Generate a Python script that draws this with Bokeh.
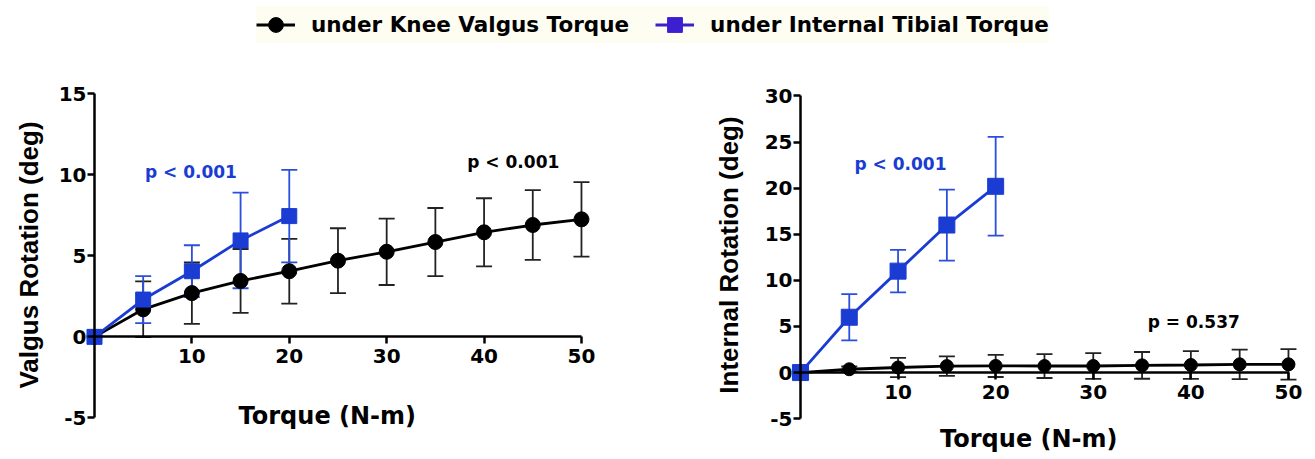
import math
from bokeh.plotting import figure
from bokeh.models import (ColumnDataSource, Whisker, TeeHead, Label, Legend,
                          LegendItem, FixedTicker, Range1d, LinearAxis)
from bokeh.layouts import column, row
from bokeh.embed import file_html
from bokeh.resources import INLINE

# ---------------- data ----------------
torque_kv = [0, 5, 10, 15, 20, 25, 30, 35, 40, 45, 50]
torque_it = [0, 5, 10, 15, 20]

# Left panel: valgus rotation (deg)
valgus_kv_mean = [0, 1.7, 2.7, 3.45, 4.05, 4.7, 5.25, 5.85, 6.45, 6.9, 7.25]
valgus_kv_sd = [0, 1.72, 1.9, 1.97, 2.0, 2.0, 2.05, 2.1, 2.1, 2.15, 2.3]
valgus_it_mean = [0, 2.3, 4.05, 5.95, 7.45]
valgus_it_sd = [0, 1.45, 1.6, 2.95, 2.85]

# Right panel: internal rotation (deg)
internal_kv_mean = [0, 0.36, 0.55, 0.7, 0.72, 0.71, 0.71, 0.78, 0.82, 0.89, 0.89]
internal_kv_sd = [0, 0.3, 1.05, 1.05, 1.2, 1.3, 1.4, 1.45, 1.5, 1.6, 1.65]
internal_it_mean = [0, 6.0, 11.0, 16.0, 20.2]
internal_it_sd = [0, 2.5, 2.3, 3.85, 5.35]

x_ticks = [10, 20, 30, 40, 50]
left_y_ticks = [-5, 0, 5, 10, 15]
right_y_ticks = [-5, 0, 5, 10, 15, 20, 25, 30]

series_labels = ["under Knee Valgus Torque", "under Internal Tibial Torque"]
left_title = "Valgus Rotation (deg)"
right_title = "Internal Rotation (deg)"
x_title = "Torque  (N-m)"
left_p_texts = ["p < 0.001", "p < 0.001"]
right_p_texts = ["p < 0.001", "p = 0.537"]

# ---------------- style ----------------
BLACK = "#000000"
BAR_BLACK = "#222222"
BLUE = "#1a3cd3"
BAR_BLUE = "#2a4fdc"
LEG_BLUE = "#3c1fd0"
FONT = "DejaVu Sans"
TFONT = "Liberation Sans"


def make_panel(width, bl, br, bt, bb, x_start, x_end, y_start, y_end, yticks, ybound,
               y_title, y_title_standoff, x_title_standoff):
    p = figure(width=width, height=416,
               x_range=Range1d(x_start, x_end), y_range=Range1d(y_start, y_end),
               x_axis_type=None, y_axis_type=None,
               output_backend="svg", toolbar_location=None,
               min_border_left=bl, min_border_right=br,
               min_border_top=bt, min_border_bottom=bb)
    p.grid.visible = False
    p.outline_line_color = None
    p.background_fill_color = "white"
    p.border_fill_color = "white"

    # axes crossing at the origin (GraphPad style)
    ax_kw = dict(fixed_location=0, axis_line_width=2.5, axis_line_color="black",
                 major_tick_line_width=2.5, major_tick_line_color="black",
                 major_tick_in=0, major_tick_out=7,
                 minor_tick_in=0, minor_tick_out=0,
                 major_label_text_font=FONT, major_label_text_font_style="bold",
                 major_label_text_font_size="20px", major_label_text_color="black")
    fx = LinearAxis(ticker=FixedTicker(ticks=x_ticks), bounds=(0, 50),
                    major_label_standoff=5, **ax_kw)
    fy = LinearAxis(ticker=FixedTicker(ticks=yticks), bounds=ybound,
                    major_label_standoff=1,
                    major_label_overrides={t: str(t) for t in yticks if t < 0},
                    **ax_kw)
    p.add_layout(fx, "below")
    p.add_layout(fy, "left")

    # axis titles (title-only axes at the frame edges)
    t_kw = dict(ticker=FixedTicker(ticks=[]), axis_line_color=None,
                major_tick_in=0, major_tick_out=0, minor_tick_in=0, minor_tick_out=0,
                axis_label_text_font_style="bold", axis_label_text_color="black")
    tx = LinearAxis(axis_label=x_title, axis_label_standoff=x_title_standoff,
                    axis_label_text_font=FONT, axis_label_text_font_size="24px", **t_kw)
    ty = LinearAxis(axis_label=y_title, axis_label_standoff=y_title_standoff,
                    axis_label_text_font=TFONT, axis_label_text_font_size="26px", **t_kw)
    p.add_layout(tx, "below")
    p.add_layout(ty, "left")
    return p


def add_series(p, xs, means, sds, color, bar_color, marker, size):
    lo = [m - s for m, s in zip(means, sds)]
    hi = [m + s for m, s in zip(means, sds)]
    keep = [i for i, s in enumerate(sds) if s > 0]
    wsrc = ColumnDataSource(dict(x=[xs[i] for i in keep],
                                 lower=[lo[i] for i in keep],
                                 upper=[hi[i] for i in keep]))
    w = Whisker(source=wsrc, base="x", lower="lower", upper="upper",
                line_color=bar_color, line_width=1.8,
                upper_head=TeeHead(size=16, line_color=bar_color, line_width=1.8),
                lower_head=TeeHead(size=16, line_color=bar_color, line_width=1.8))
    p.add_layout(w)
    src = ColumnDataSource(dict(x=xs, y=means))
    p.line("x", "y", source=src, line_color=color, line_width=2.8)
    p.scatter("x", "y", source=src, marker=marker, size=size,
              fill_color=color, line_color=color)


def add_text(p, x, y, text, color):
    p.add_layout(Label(x=x, y=y, text=text, text_font=FONT,
                       text_font_style="bold", text_font_size="17px",
                       text_color=color, text_align="center",
                       text_baseline="middle"))


# ---------------- left panel ----------------
left = make_panel(700, 56, 94, 34, 26, -3.9, 52.57, -5.9, 16, left_y_ticks, (-5, 15),
                  left_title, 13, -31)
add_series(left, torque_kv, valgus_kv_mean, valgus_kv_sd, BLACK, BAR_BLACK, "circle", 15)
add_series(left, torque_it, valgus_it_mean, valgus_it_sd, BLUE, BAR_BLUE, "square", 15)
add_text(left, 9.9, 10.2, left_p_texts[0], BLUE)
add_text(left, 43.0, 10.8, left_p_texts[1], BLACK)

# ---------------- right panel ----------------
right = make_panel(615, 62, 12, 31, 27, -3.89, 51.54, -6.5, 32, right_y_ticks, (-5, 30),
                   right_title, 19, -8)
add_series(right, torque_kv, internal_kv_mean, internal_kv_sd, BLACK, BAR_BLACK, "circle", 13)
add_series(right, torque_it, internal_it_mean, internal_it_sd, BLUE, BAR_BLUE, "square", 16)
add_text(right, 10.25, 22.6, right_p_texts[0], BLUE)
add_text(right, 40.3, 5.45, right_p_texts[1], BLACK)

# ---------------- legend strip ----------------
leg = figure(width=1315, height=43, x_range=Range1d(1000, 1001), y_range=Range1d(1000, 1001),
             x_axis_type=None, y_axis_type=None, output_backend="svg",
             toolbar_location=None, min_border=0)
leg.grid.visible = False
leg.outline_line_color = None
src_kv = ColumnDataSource(dict(x=torque_kv, y=valgus_kv_mean))
src_it = ColumnDataSource(dict(x=torque_it, y=valgus_it_mean))
l1 = leg.line("x", "y", source=src_kv, line_color=BLACK, line_width=3)
s1 = leg.scatter("x", "y", source=src_kv, marker="circle", size=15,
                 fill_color=BLACK, line_color=BLACK)
l2 = leg.line("x", "y", source=src_it, line_color=LEG_BLUE, line_width=3)
s2 = leg.scatter("x", "y", source=src_it, marker="square", size=16,
                 fill_color=LEG_BLUE, line_color=LEG_BLUE)
legend = Legend(items=[LegendItem(label=series_labels[0], renderers=[l1, s1]),
                       LegendItem(label=series_labels[1], renderers=[l2, s2])],
                orientation="horizontal", location=(256, 0),
                glyph_width=39, glyph_height=37, label_standoff=16, spacing=26,
                padding=3, margin=0,
                background_fill_color="#fdfdf2", background_fill_alpha=1.0,
                border_line_color=None,
                label_text_font=FONT, label_text_font_style="bold",
                label_text_font_size="21.5px", label_text_color="black")
leg.add_layout(legend, "center")

layout = column(leg, row(left, right))
open("out.html", "w").write(file_html(layout, INLINE))
